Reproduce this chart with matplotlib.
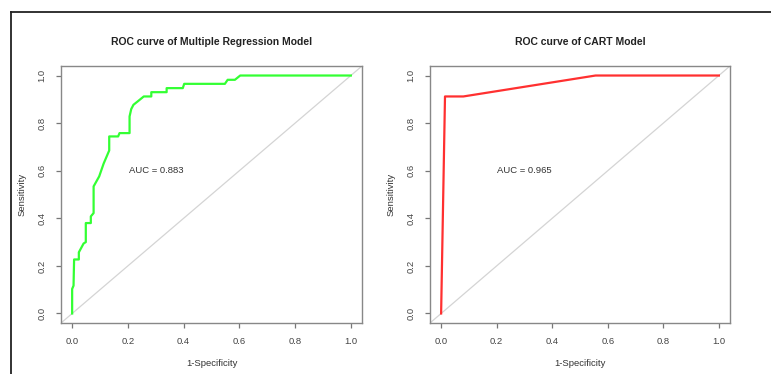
import matplotlib
matplotlib.use("Agg")
import matplotlib.pyplot as plt
from matplotlib.lines import Line2D

plt.rcParams["font.family"] = ["Liberation Sans", "DejaVu Sans"]

# ---------------------------------------------------------------------------
# ROC curve points (x = 1-specificity, y = sensitivity)
# ---------------------------------------------------------------------------
mr_fpr = [0.0, 0.0, 0.005, 0.007, 0.024, 0.024, 0.041, 0.049, 0.049, 0.067,
          0.067, 0.077, 0.077, 0.097, 0.113, 0.133, 0.133, 0.165, 0.170,
          0.206, 0.206, 0.212, 0.220, 0.236, 0.257, 0.284, 0.284, 0.339,
          0.339, 0.397, 0.402, 0.548, 0.558, 0.584, 0.603, 1.0]
mr_tpr = [0.0, 0.103, 0.117, 0.227, 0.227, 0.257, 0.294, 0.300, 0.380, 0.380,
          0.408, 0.422, 0.534, 0.576, 0.630, 0.685, 0.744, 0.744, 0.758,
          0.758, 0.828, 0.859, 0.877, 0.892, 0.912, 0.912, 0.930, 0.930,
          0.947, 0.947, 0.965, 0.965, 0.982, 0.982, 1.0, 1.0]
mr_auc = 0.883

cart_fpr = [0.0, 0.014, 0.080, 0.556, 1.0]
cart_tpr = [0.0, 0.912, 0.912, 1.0, 1.0]
cart_auc = 0.965

ticks = [0.0, 0.2, 0.4, 0.6, 0.8, 1.0]
tick_labels = ["0.0", "0.2", "0.4", "0.6", "0.8", "1.0"]

W, H = 771, 374
fig = plt.figure(figsize=(W / 100, H / 100), dpi=100)

panels = [
    (61, 301, mr_fpr, mr_tpr, mr_auc, "#33ff33", "ROC curve of Multiple Regression Model"),
    (430, 300, cart_fpr, cart_tpr, cart_auc, "#ff3030", "ROC curve of CART Model"),
]

for left, width, fpr, tpr, auc, color, title in panels:
    ax = fig.add_axes([left / W, (H - 323) / H, width / W, (323 - 66) / H])
    ax.axline((0, 0), (1, 1), color="#d4d4d4", lw=0.9, zorder=1)
    ax.plot(fpr, tpr, color=color, lw=1.6, zorder=2)
    ax.text(0.3, 0.6, f"AUC = {auc:.3f}", ha="center", va="center",
            fontsize=6.8, color="#333333")
    ax.set_xlim(-0.04, 1.04)
    ax.set_ylim(-0.04, 1.04)
    ax.set_xticks(ticks)
    ax.set_xticklabels(tick_labels)
    ax.set_yticks(ticks)
    ax.set_yticklabels(tick_labels, rotation=90, va="center")
    ax.tick_params(length=3.8, width=0.9, color="#777777", labelcolor="#444444",
                   labelsize=6.8, pad=6.5)
    for sp in ax.spines.values():
        sp.set_color("#888888")
        sp.set_linewidth(1.0)
    ax.set_xlabel("1-Specificity", fontsize=6.8, color="#333333", labelpad=9)
    ax.set_ylabel("Sensitivity", fontsize=6.8, color="#333333", labelpad=8)
    ax.set_title(title, fontsize=7.5, fontweight="bold", color="#222222", pad=15)

# screenshot frame (left and top edges)
fig.add_artist(Line2D([11 / W, 11 / W], [0, (H - 12) / H], color="#222222", lw=1.3))
fig.add_artist(Line2D([11 / W, 1], [(H - 12) / H, (H - 12) / H], color="#222222", lw=1.3))

fig.savefig("out.png", dpi=100)
